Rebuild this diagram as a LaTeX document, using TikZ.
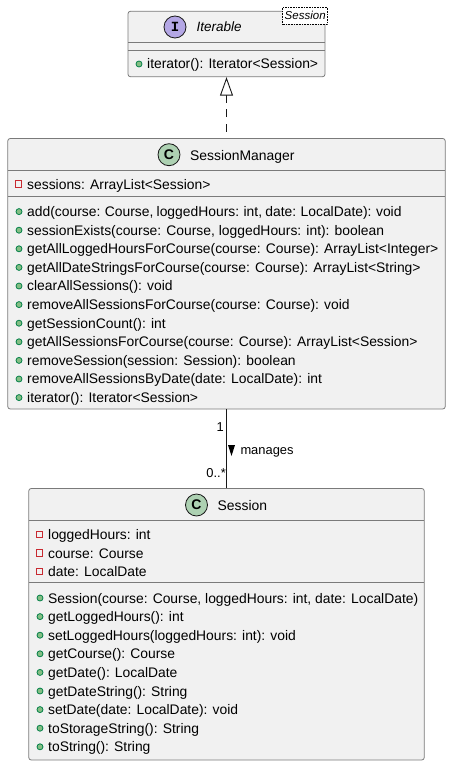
\documentclass[tikz,border=0pt]{standalone}
\usepackage{fontspec}
\setmainfont{Liberation Sans}
\newfontfamily\glyphfont{Liberation Mono}
\usetikzlibrary{arrows.meta,positioning}
\definecolor{boxfill}{HTML}{F1F1F1}
\definecolor{boxline}{HTML}{7A7A7A}
\definecolor{inkline}{HTML}{181818}
\definecolor{classfill}{HTML}{ADD1B2}
\definecolor{ifacefill}{HTML}{B4A7E5}
\definecolor{pubfill}{HTML}{84BE84}
\definecolor{publine}{HTML}{038048}
\definecolor{privline}{HTML}{C82930}
\tikzset{
  umlbox/.style={draw=boxline, fill=boxfill, rounded corners=2.5pt, line width=0.8pt, inner sep=0pt},
  member/.style={anchor=base west, inner sep=0pt, text=black, font=\fontsize{13.87}{16}\selectfont},
  title/.style={anchor=base west, inner sep=0pt, font=\fontsize{13.9}{16}\selectfont},
  badge/.style={circle, draw=inkline, line width=0.8pt, minimum size=22pt, inner sep=0pt},
  pub/.style={circle, draw=publine, fill=pubfill, line width=0.8pt, minimum size=6pt, inner sep=0pt},
  priv/.style={rectangle, draw=privline, line width=0.8pt, minimum size=6.5pt, inner sep=0pt},
  assoc/.style={anchor=base, inner sep=0pt, font=\fontsize{12.9}{15}\selectfont},
}
\begin{document}
\begin{tikzpicture}[x=1pt, y=-1pt]
    \useasboundingbox (0,0) rectangle (451,765);

    % Iterable
    \node[umlbox, minimum width=197pt, minimum height=65.5pt] (iterable) at (226.5,44) {};
    \draw[boxline, line width=0.8pt] (128,42.5) -- (325,42.5);
    \draw[boxline, line width=0.8pt] (128,50.3) -- (325,50.3);
    \node[badge, fill=ifacefill] (iterableicon) at (175,27) {\glyphfont\bfseries\fontsize{14}{14}\selectfont I};
    \node[title, font=\fontsize{13.5}{16}\selectfont] (iterabletitle) at (196.5,32) {\itshape Iterable};
    \node[draw=black, densely dotted, fill=white, line width=0.6pt, minimum width=45pt, minimum height=16.7pt, inner sep=0pt, font=\fontsize{11.5}{14}\selectfont\itshape] (iterableparam) at (305.2,15.7) {Session};
    \node[pub] (iterabledot) at (139,64) {};
    \node[member] (iterablem) at (147,69) {iterator(): Iterator<Session>};

    % SessionManager
    \node[umlbox, minimum width=437.5pt, minimum height=270.5pt] (manager) at (226.5,273.75) {};
    \draw[boxline, line width=0.8pt] (7.75,170.7) -- (445.25,170.7);
    \draw[boxline, line width=0.8pt] (7.75,196.3) -- (445.25,196.3);
    \node[badge, fill=classfill] (managericon) at (169,154.7) {\bfseries\fontsize{14}{14}\selectfont C};
    \node[title] (managertitle) at (190,160) {SessionManager};
    \node[priv] (managerf1) at (18.5,184) {};
    \node[member] (managerfield) at (27,189) {sessions: ArrayList<Session>};
    \node[pub] (managerd1) at (19,211.6) {};
    \node[member] (manager1) at (27,216.5) {\spaceskip=3.2pt add(course: Course, loggedHours: int, date: LocalDate): void};
    \node[pub] (managerd2) at (19,230.2) {};
    \node[member] (manager2) at (27,235.1) {sessionExists(course: Course, loggedHours: int): boolean};
    \node[pub] (managerd3) at (19,248.8) {};
    \node[member] (manager3) at (27,253.7) {getAllLoggedHoursForCourse(course: Course): ArrayList<Integer>};
    \node[pub] (managerd4) at (19,267.4) {};
    \node[member] (manager4) at (27,272.3) {getAllDateStringsForCourse(course: Course): ArrayList<String>};
    \node[pub] (managerd5) at (19,286) {};
    \node[member] (manager5) at (27,290.9) {clearAllSessions(): void};
    \node[pub] (managerd6) at (19,304.6) {};
    \node[member] (manager6) at (27,309.5) {removeAllSessionsForCourse(course: Course): void};
    \node[pub] (managerd7) at (19,323.2) {};
    \node[member] (manager7) at (27,328.1) {getSessionCount(): int};
    \node[pub] (managerd8) at (19,341.8) {};
    \node[member] (manager8) at (27,346.7) {getAllSessionsForCourse(course: Course): ArrayList<Session>};
    \node[pub] (managerd9) at (19,360.4) {};
    \node[member] (manager9) at (27,365.3) {removeSession(session: Session): boolean};
    \node[pub] (managerd10) at (19,379) {};
    \node[member] (manager10) at (27,383.9) {removeAllSessionsByDate(date: LocalDate): int};
    \node[pub] (managerd11) at (19,397.6) {};
    \node[member] (manager11) at (27,402.5) {iterator(): Iterator<Session>};

    % Session
    \node[umlbox, minimum width=395.5pt, minimum height=271.5pt] (session) at (226.5,624.25) {};
    \draw[boxline, line width=0.8pt] (28.75,520.3) -- (424.25,520.3);
    \draw[boxline, line width=0.8pt] (28.75,582.7) -- (424.25,582.7);
    \node[badge, fill=classfill] (sessionicon) at (196.5,505) {\bfseries\fontsize{14}{14}\selectfont C};
    \node[title] (sessiontitle) at (217.5,510.5) {Session};
    \node[priv] (sessionf1) at (39.5,534.5) {};
    \node[member] (sessionfield1) at (48,539.5) {loggedHours: int};
    \node[priv] (sessionf2) at (39.5,553) {};
    \node[member] (sessionfield2) at (48,558) {course: Course};
    \node[priv] (sessionf3) at (39.5,571.5) {};
    \node[member] (sessionfield3) at (48,576.5) {date: LocalDate};
    \node[pub] (sessiond1) at (40,598) {};
    \node[member] (session1) at (48,603) {Session(course: Course, loggedHours: int, date: LocalDate)};
    \node[pub] (sessiond2) at (40,616.6) {};
    \node[member] (session2) at (48,621.6) {getLoggedHours(): int};
    \node[pub] (sessiond3) at (40,635.2) {};
    \node[member] (session3) at (48,640.2) {setLoggedHours(loggedHours: int): void};
    \node[pub] (sessiond4) at (40,653.8) {};
    \node[member] (session4) at (48,658.8) {getCourse(): Course};
    \node[pub] (sessiond5) at (40,672.4) {};
    \node[member] (session5) at (48,677.4) {getDate(): LocalDate};
    \node[pub] (sessiond6) at (40,691) {};
    \node[member] (session6) at (48,696) {getDateString(): String};
    \node[pub] (sessiond7) at (40,709.6) {};
    \node[member] (session7) at (48,714.6) {setDate(date: LocalDate): void};
    \node[pub] (sessiond8) at (40,728.2) {};
    \node[member] (session8) at (48,733.2) {toStorageString(): String};
    \node[pub] (sessiond9) at (40,746.8) {};
    \node[member] (session9) at (48,751.8) {toString(): String};

    % connectors
    \draw[inkline, line width=0.9pt, dash pattern=on 8pt off 6.5pt, dash phase=8pt, -{Triangle[open, length=18.5pt, width=13pt, fill=white]}] (manager.north) -- (iterable.south);
    \draw[inkline, line width=0.9pt] (manager.south) -- (session.north);
    \node[assoc, anchor=base east] (managerone) at (224,431) {1};
    \node[assoc, anchor=base east] (sessionmany) at (226,477) {0..*};
    \fill[black] (228,445) -- (235,445) -- (231.5,456) -- cycle;
    \node[assoc, anchor=base west] (manageslabel) at (240.3,454) {manages};
\end{tikzpicture}
\end{document}
